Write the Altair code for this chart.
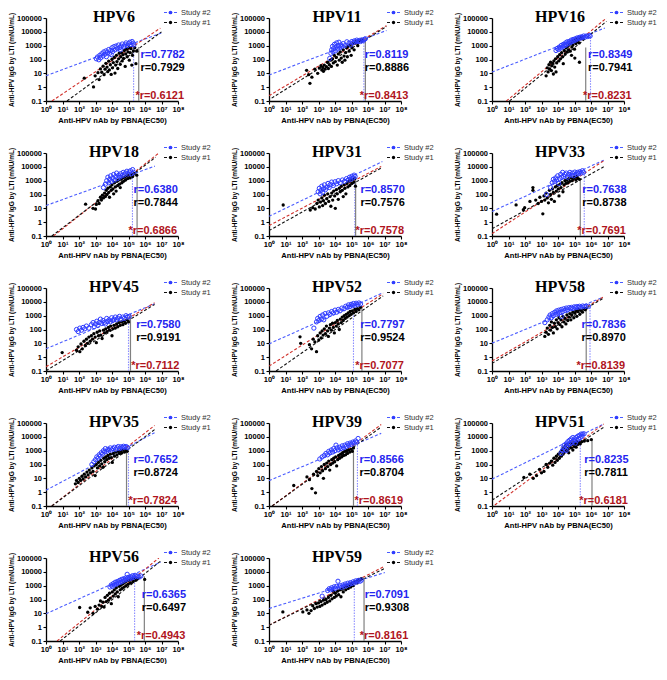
import altair as alt
import pandas as pd

# ---------------- data (log10 units) ----------------
PANELS = ["HPV6", "HPV11", "HPV16", "HPV18", "HPV31", "HPV33", "HPV45",
          "HPV52", "HPV58", "HPV35", "HPV39", "HPV51", "HPV56", "HPV59"]
R_S2 = ["0.7782", "0.8119", "0.8349", "0.6380", "0.8570", "0.7638", "0.7580",
        "0.7797", "0.7836", "0.7652", "0.8566", "0.8235", "0.6365", "0.7091"]
R_S1 = ["0.7929", "0.8886", "0.7941", "0.7844", "0.7576", "0.8738", "0.9191",
        "0.9524", "0.8970", "0.8724", "0.8704", "0.7811", "0.6497", "0.9308"]
R_ALL = ["0.6121", "0.8413", "0.8231", "0.6866", "0.7578", "0.7691", "0.7112",
         "0.7077", "0.8139", "0.7824", "0.8619", "0.6181", "0.4943", "0.8161"]
R_LABEL_X = [5.72, 5.8, 5.82, 5.3, 5.54, 5.47, 5.47, 5.53, 5.42, 5.3, 5.48, 5.59, 5.8, 5.8]

# regression lines (x1, y1, x2, y2) in log10 units
FIT_S2 = [(0, 0.82, 7.07, 3.96), (0, 0.88, 7.12, 4.1), (0, 1.09, 6.84, 4.28),
          (0, 1.2, 6.6, 4.05), (0, 0.42, 6.87, 4.38), (0, 0.77, 6.77, 4.48),
          (0, 0.61, 6.58, 3.86), (0, 0.96, 6.92, 4.66), (0, 1.01, 6.72, 4.33),
          (0, 0.14, 6.58, 4.3), (0, 0.83, 6.8, 4.25), (0, 0.94, 6.77, 4.93),
          (0, 0.97, 6.94, 4.7), (0, 1.35, 7.02, 3.95)]
FIT_S1 = [(1.27, -1, 7.0, 4.0), (0.16, -0.79, 7.12, 4.38), (1.06, -1, 6.94, 4.76),
          (0.35, -1, 6.65, 4.7), (0, -0.61, 6.8, 3.92), (0, -0.48, 6.77, 4.0),
          (0, -0.98, 6.58, 3.81), (0.43, -1, 6.92, 4.43), (0, -0.45, 6.72, 4.24),
          (0.35, -1, 6.58, 4.52), (0.19, -1, 6.8, 4.71), (0, -0.58, 6.77, 4.69),
          (0.86, -1, 6.94, 4.77), (0, 0.14, 7.02, 4.25)]
FIT_ALL = [(0.36, -1, 6.93, 4.27), (0, -0.62, 7.12, 4.45), (0.87, -1, 6.94, 5.0),
           (0.45, -1, 6.84, 5.0), (0, -0.25, 6.8, 4.03), (0, -0.83, 6.77, 4.44),
           (0, -0.69, 6.58, 3.93), (0, -0.65, 6.92, 4.59), (0, -0.27, 6.72, 4.33),
           (0.35, -1, 6.58, 4.82), (0.19, -1, 6.8, 4.89), (0.17, -0.93, 6.77, 4.93),
           (0.67, -1, 6.84, 5.0), (0, 0.14, 7.02, 4.41)]

# vertical reference lines (x, top) in log10 units
VLINE_S2 = [(5.31, 3.3), (5.75, 3.6), (5.97, 3.7), (5.24, 3.4), (5.2, 3.23), (5.59, 3.78),
            (5.0, 2.86), (5.12, 3.32), (5.94, 3.7), (5.0, 3.16), (5.36, 3.79), (5.35, 3.87),
            (5.37, 3.46), (5.17, 3.22)]
VLINE_S1 = [(5.62, 2.9), (5.84, 3.5), (5.68, 2.86), (5.52, 3.4), (5.25, 3.2), (5.35, 3.18),
            (5.12, 3.1), (5.63, 3.55), (5.71, 3.57), (4.88, 3.0), (5.12, 3.34), (6.06, 3.87),
            (5.96, 3.68), (5.76, 3.57)]

HPV6_S2 = [(3.05,2.05),(3.12,2.18),(3.2,1.98),(3.26,2.3),(3.31,2.12),(3.38,2.42),(3.45,2.25),(3.5,2.55),
           (3.57,2.38),(3.63,2.62),(3.66,2.2),(3.72,2.5),(3.8,2.72),(3.86,2.45),(3.93,2.66),(4.0,2.85),
           (4.04,2.58),(4.12,2.93),(4.18,2.7),(4.25,2.98),(4.33,2.78),(4.4,3.05),(4.47,2.86),(4.55,2.97),
           (4.62,3.12),(4.7,2.92),(4.78,3.06),(4.85,3.2),(4.93,3.0),(5.0,3.15),(5.08,3.25),(5.15,3.08),
           (5.22,3.3),(5.28,3.18),(5.33,3.05),(4.5,2.7),(3.95,2.35)]
HPV6_S1 = [(2.32,0.65),(2.88,0.02),(2.98,0.82),(3.15,1.05),(3.22,0.55),(3.3,1.32),(3.38,1.08),(3.46,1.52),
           (3.52,0.9),(3.58,1.3),(3.63,1.72),(3.7,1.45),(3.74,1.12),(3.8,1.88),(3.84,1.25),(3.9,1.62),
           (3.95,0.92),(4.0,2.02),(4.03,1.4),(4.08,1.78),(4.14,2.15),(4.18,1.02),(4.22,1.6),(4.27,2.3),
           (4.3,1.85),(4.35,1.35),(4.4,2.05),(4.44,2.45),(4.5,1.65),(4.53,2.2),(4.58,2.5),(4.62,1.9),
           (4.66,2.35),(4.7,2.08),(4.75,2.65),(4.8,1.5),(4.83,2.4),(4.88,2.75),(4.92,2.2),(4.97,2.55),
           (5.02,2.85),(5.05,1.95),(5.1,2.5),(5.15,2.78),(5.2,1.6),(5.24,2.3),(5.3,2.62),(5.38,2.85),
           (5.45,1.7),(5.5,2.6)]

HPV11_S2 = [(3.68,2.08),(3.75,2.45),(3.8,2.7),(3.85,2.95),(3.88,2.55),(3.92,2.8),(3.97,3.1),(4.02,2.62),
            (4.06,2.9),(4.1,3.2),(4.15,2.75),(4.2,3.0),(4.24,3.25),(4.3,2.85),(4.36,3.05),(4.42,2.95),
            (4.5,3.15),(4.6,3.0),(4.72,3.28),(4.85,3.18),(4.95,3.05),(5.02,3.3),(5.1,3.22),(5.18,3.35),
            (5.25,3.28),(5.32,3.4),(5.4,3.3),(5.48,3.38),(5.55,3.3),(5.62,3.42),(5.7,3.36),(5.78,3.45),(5.84,3.5)]
HPV11_S1 = [(2.28,1.22),(2.4,0.9),(2.48,0.28),(2.6,0.72),(2.78,1.3),(2.95,1.0),(3.05,1.38),(3.15,1.55),
            (3.2,1.25),(3.26,1.42),(3.3,1.15),(3.35,1.6),(3.4,1.3),(3.48,1.48),(3.55,1.8),(3.6,1.35),
            (3.66,1.62),(3.72,1.95),(3.78,1.5),(3.85,2.05),(3.9,1.75),(3.96,2.3),(4.02,1.85),(4.08,2.15),
            (4.14,1.6),(4.2,2.4),(4.26,1.95),(4.32,2.55),(4.38,2.1),(4.44,1.8),(4.5,2.7),(4.55,2.25),
            (4.6,1.95),(4.65,2.5),(4.7,2.85),(4.75,2.2),(4.8,2.95),(4.86,2.6),(4.92,3.05),(4.98,2.3),
            (5.03,2.85),(5.1,3.15),(5.16,2.7),(5.22,3.2),(5.3,3.3),(5.38,3.0),(5.45,3.35),(5.55,3.42),(5.62,3.4)]

HPV16_S2 = [(3.88,2.65),(3.95,2.8),(4.02,2.72),(4.08,2.9),(4.15,2.82),(4.2,3.02),(4.27,2.9),(4.33,3.1),
            (4.4,3.0),(4.46,3.2),(4.5,3.05),(4.56,3.28),(4.62,3.15),(4.68,3.3),(4.75,3.22),(4.8,3.4),
            (4.86,3.3),(4.92,3.45),(4.98,3.36),(5.05,3.5),(5.1,3.42),(5.16,3.56),(5.22,3.5),(5.3,3.6),
            (5.36,3.54),(5.42,3.64),(5.5,3.6),(5.56,3.7),(5.64,3.62),(5.72,3.7),(5.8,3.66),(5.88,3.72),(5.95,3.7)]
HPV16_S1 = [(3.28,0.82),(3.35,1.4),(3.4,1.1),(3.45,1.62),(3.5,1.3),(3.55,1.8),(3.6,1.2),(3.62,1.55),
            (3.68,1.72),(3.72,0.95),(3.75,1.9),(3.8,1.45),(3.85,2.05),(3.88,1.1),(3.92,1.75),(3.98,2.2),
            (4.05,1.9),(4.1,2.35),(4.15,2.05),(4.22,2.5),(4.28,2.2),(4.32,1.7),(4.38,2.65),(4.44,2.4),
            (4.5,2.85),(4.54,2.55),(4.6,2.95),(4.64,2.7),(4.7,3.1),(4.74,2.6),(4.8,3.2),(4.84,2.9),
            (4.9,3.05),(4.95,3.3),(5.0,2.75),(5.04,3.4),(5.08,3.15),(5.12,3.5),(5.18,3.3),(5.22,3.45),
            (5.28,3.2),(5.34,3.55),(5.4,3.62),(5.48,3.5),(5.02,2.1),(5.3,1.8),(4.82,2.3)]

HPV18_S2 = [(3.48,2.5),(3.6,2.75),(3.68,3.0),(3.75,3.25),(3.8,2.85),(3.86,3.1),(3.92,3.35),(3.98,2.95),
            (4.04,3.2),(4.1,3.45),(4.16,3.05),(4.22,3.3),(4.28,3.55),(4.34,3.15),(4.4,3.4),(4.46,3.25),
            (4.52,3.5),(4.6,3.35),(4.68,3.6),(4.75,3.42),(4.82,3.55),(4.9,3.68),(4.98,3.48),(5.05,3.62),
            (5.12,3.72),(5.18,3.5),(5.25,3.8),(5.3,3.6)]
HPV18_S1 = [(2.4,1.3),(2.85,1.0),(3.0,0.95),(3.05,1.28),(3.15,1.55),(3.22,1.35),(3.3,1.8),(3.36,1.6),
            (3.42,1.95),(3.48,1.75),(3.55,2.1),(3.6,1.85),(3.65,2.3),(3.7,2.0),(3.75,2.45),(3.8,2.15),
            (3.85,1.8),(3.9,2.55),(3.95,2.3),(4.0,2.7),(4.05,2.4),(4.1,2.05),(4.15,2.85),(4.2,2.55),
            (4.25,2.25),(4.3,2.95),(4.35,2.65),(4.4,3.05),(4.45,2.75),(4.5,2.5),(4.55,3.1),(4.6,2.85),
            (4.65,3.2),(4.7,2.95),(4.76,3.25),(4.82,3.05),(4.88,3.35),(4.95,3.15),(5.02,3.4),(5.1,3.2),
            (5.18,3.45),(5.25,3.3),(5.35,3.5),(5.5,3.4)]

HPV31_S2 = [(2.98,2.2),(3.05,2.45),(3.1,2.05),(3.15,2.3),(3.2,2.6),(3.25,2.15),(3.3,2.4),(3.36,2.7),
            (3.42,2.35),(3.5,2.55),(3.58,2.8),(3.65,2.5),(3.72,2.72),(3.8,2.9),(3.9,2.65),(4.0,2.92),
            (4.1,2.78),(4.2,3.0),(4.32,2.85),(4.45,3.05),(4.58,2.95),(4.7,3.15),(4.8,3.05),(4.88,3.25),
            (4.95,3.1),(5.02,3.32),(5.1,3.2),(5.16,3.4),(5.22,3.3)]
HPV31_S1 = [(0.86,1.24),(2.5,0.88),(2.65,1.05),(2.8,0.95),(2.9,1.35),(2.98,1.6),(3.05,1.1),(3.12,1.45),
            (3.2,1.75),(3.25,1.2),(3.3,1.55),(3.36,1.95),(3.42,1.35),(3.5,1.7),(3.56,2.05),(3.62,1.5),
            (3.7,1.85),(3.75,1.15),(3.8,2.1),(3.86,1.6),(3.92,2.25),(3.98,1.9),(4.02,1.0),(4.08,2.35),
            (4.14,2.05),(4.2,1.65),(4.26,2.45),(4.32,2.2),(4.38,2.6),(4.44,2.3),(4.5,1.85),(4.55,2.7),
            (4.6,2.45),(4.66,2.05),(4.72,2.8),(4.78,2.55),(4.84,2.95),(4.9,2.65),(4.96,3.05),(5.02,2.8),
            (5.08,3.1),(5.14,2.9),(5.2,3.15),(5.24,2.6)]

HPV33_S2 = [(3.3,2.0),(3.55,2.5),(3.65,2.85),(3.72,3.1),(3.8,2.95),(3.86,3.2),(3.92,3.05),(3.98,3.35),
            (4.04,2.8),(4.1,3.15),(4.16,3.45),(4.22,3.25),(4.28,3.6),(4.35,3.3),(4.42,3.45),(4.5,3.55),
            (4.58,3.25),(4.65,3.45),(4.72,3.6),(4.8,3.4),(4.88,3.55),(4.95,3.35),(5.02,3.62),(5.1,3.45),
            (5.18,3.6),(5.25,3.5),(5.32,3.65),(5.4,3.55),(5.48,3.72),(5.55,3.6)]
HPV33_S1 = [(0.28,0.58),(1.46,1.25),(1.9,0.9),(1.98,1.05),(2.3,1.5),(2.48,2.5),(2.48,2.3),(2.65,1.6),
            (2.8,1.35),(2.9,1.8),(3.0,1.5),(3.08,0.6),(3.15,1.9),(3.2,1.6),(3.28,2.1),(3.35,1.75),
            (3.42,1.4),(3.48,2.3),(3.55,2.0),(3.6,1.65),(3.66,2.4),(3.72,2.15),(3.78,1.5),(3.84,2.55),
            (3.9,2.25),(3.96,2.65),(4.02,2.4),(4.06,1.9),(4.12,2.75),(4.18,2.5),(4.24,2.85),(4.3,2.2),
            (4.36,2.7),(4.42,3.0),(4.48,2.8),(4.54,3.05),(4.6,2.85),(4.66,3.15),(4.72,2.95),(4.8,3.2),
            (4.86,3.0),(4.94,3.15),(5.0,3.25),(5.08,3.05),(5.15,3.3),(5.22,3.15),(5.3,3.1)]

HPV45_S2 = [(1.85,2.0),(1.95,1.85),(2.05,2.1),(2.15,1.95),(2.25,2.15),(2.35,2.05),(2.45,2.25),(2.6,2.1),
            (2.75,2.35),(2.85,2.5),(2.92,2.2),(3.0,2.4),(3.08,2.6),(3.15,2.3),(3.22,2.5),(3.3,2.75),
            (3.38,2.45),(3.45,2.65),(3.52,2.5),(3.6,2.4),(3.68,2.8),(3.75,2.6),(3.82,2.7),(3.9,2.55),
            (3.98,2.85),(4.05,2.65),(4.12,2.75),(4.2,2.9),(4.28,2.7),(4.36,2.82),(4.45,2.95),(4.55,2.75),
            (4.65,2.9),(4.75,2.8),(4.85,3.0),(4.95,2.9),(5.05,2.95)]
HPV45_S1 = [(0.98,0.33),(1.85,0.5),(1.95,0.75),(2.05,0.4),(2.12,0.95),(2.2,0.6),(2.3,1.15),(2.38,0.85),
            (2.45,1.3),(2.52,1.0),(2.6,1.45),(2.68,1.15),(2.75,1.55),(2.82,1.3),(2.9,1.7),(2.98,1.45),
            (3.05,1.05),(3.1,1.8),(3.18,1.55),(3.25,1.9),(3.32,1.6),(3.4,1.35),(3.48,1.95),(3.55,1.75),
            (3.62,2.05),(3.7,1.85),(3.78,2.15),(3.85,1.95),(3.92,2.25),(4.0,1.55),(4.05,2.05),(4.12,2.3),
            (4.2,2.1),(4.28,2.4),(4.35,2.2),(4.42,2.5),(4.5,2.3),(4.58,2.55),(4.66,2.35),(4.74,2.6),
            (4.82,2.45),(4.9,2.7),(5.0,2.55)]

HPV52_S2 = [(2.72,2.1),(2.88,2.55),(2.95,2.8),(3.02,2.65),(3.1,2.95),(3.18,2.75),(3.25,3.05),(3.32,2.7),
            (3.4,3.15),(3.5,2.95),(3.6,3.2),(3.7,3.1),(3.8,3.3),(3.9,3.2),(4.0,3.4),(4.1,3.25),(4.2,3.45),
            (4.3,3.35),(4.42,3.55),(4.55,3.5),(4.65,3.68),(4.75,3.6),(4.82,3.78),(4.9,3.65),(4.98,3.82),
            (5.05,3.72),(5.12,3.88),(5.2,3.75),(5.28,3.9),(5.36,3.8),(5.45,3.92),(5.55,3.85)]
HPV52_S1 = [(1.88,1.47),(1.92,1.0),(2.45,0.9),(2.58,0.6),(2.68,1.3),(2.78,1.1),(2.88,0.4),(2.95,1.55),
            (3.02,1.25),(3.1,1.75),(3.16,1.4),(3.22,1.9),(3.28,1.6),(3.35,2.05),(3.42,1.7),(3.48,2.25),
            (3.55,1.9),(3.6,1.5),(3.66,2.1),(3.72,2.35),(3.78,1.95),(3.85,2.45),(3.9,2.15),(3.96,1.75),
            (4.02,2.5),(4.08,2.25),(4.14,2.65),(4.2,2.4),(4.26,2.0),(4.32,2.75),(4.38,2.5),(4.44,2.9),
            (4.5,2.65),(4.56,3.0),(4.62,2.8),(4.68,3.1),(4.74,2.9),(4.8,3.2),(4.86,3.0),(4.92,3.3),
            (4.98,3.1),(5.05,3.35),(5.12,3.2),(5.2,3.45),(5.28,3.3),(5.36,3.5),(5.45,3.42),(5.55,3.6)]

HPV58_S2 = [(3.2,2.5),(3.35,2.7),(3.45,2.9),(3.52,3.05),(3.6,2.85),(3.66,3.15),(3.72,3.0),(3.8,3.25),
            (3.86,3.1),(3.92,3.35),(3.98,3.2),(4.05,3.4),(4.12,3.25),(4.2,3.45),(4.28,3.3),(4.35,3.5),
            (4.42,3.38),(4.5,3.55),(4.58,3.42),(4.66,3.58),(4.74,3.5),(4.82,3.6),(4.9,3.52),(4.98,3.64),
            (5.06,3.58),(5.14,3.66),(5.22,3.6),(5.3,3.68),(5.4,3.62),(5.5,3.7),(5.6,3.65),(5.7,3.7),
            (5.85,3.68),(4.2,2.95)]
HPV58_S1 = [(3.2,1.5),(3.28,1.8),(3.35,2.1),(3.42,1.65),(3.5,2.3),(3.55,1.95),(3.6,2.55),(3.66,2.15),
            (3.72,1.75),(3.78,2.45),(3.84,2.2),(3.9,2.7),(3.95,2.05),(4.0,2.5),(4.06,2.85),(4.12,2.35),
            (4.18,2.7),(4.24,2.2),(4.3,2.95),(4.36,2.55),(4.42,2.8),(4.48,2.4),(4.54,3.05),(4.6,2.65),
            (4.66,2.9),(4.72,3.15),(4.78,2.7),(4.84,3.05),(4.9,3.25),(4.96,2.85),(5.02,3.2),(5.08,3.35),
            (5.14,2.95),(5.2,3.3),(5.26,3.45),(5.32,3.1),(5.4,3.4),(5.48,3.25),(5.56,3.5),(5.65,3.42),(5.72,3.55)]

HPV35_S2 = [(2.78,2.0),(2.9,2.2),(3.0,2.35),(3.08,2.55),(3.15,2.45),(3.22,2.7),(3.28,2.6),(3.35,2.85),
            (3.42,2.75),(3.48,3.0),(3.55,2.9),(3.6,3.15),(3.68,2.95),(3.75,3.1),(3.82,3.05),(3.9,3.2),
            (3.98,3.05),(4.06,3.15),(4.14,3.25),(4.22,3.1),(4.3,3.2),(4.38,3.3),(4.46,3.15),(4.54,3.28),
            (4.62,3.2),(4.7,3.32),(4.78,3.25),(4.86,3.3),(4.95,3.22)]
HPV35_S1 = [(1.78,0.6),(1.85,0.85),(1.95,0.7),(2.02,1.0),(2.1,0.85),(2.18,1.15),(2.25,0.95),(2.32,1.3),
            (2.4,1.1),(2.48,1.45),(2.55,1.25),(2.62,1.6),(2.7,1.4),(2.78,1.75),(2.85,1.5),(2.92,1.9),
            (2.98,1.2),(3.05,2.0),(3.12,1.75),(3.18,2.15),(3.25,1.9),(3.32,2.3),(3.38,2.05),(3.45,1.8),
            (3.5,2.45),(3.56,2.2),(3.62,2.55),(3.68,2.35),(3.75,2.65),(3.82,2.45),(3.9,2.75),(3.96,2.5),
            (4.02,2.15),(4.08,2.8),(4.15,2.6),(4.22,2.9),(4.3,2.7),(4.38,2.95),(4.45,2.8),(4.52,3.0),
            (4.6,2.85),(4.68,3.05),(4.76,2.9),(4.85,3.05),(4.92,2.95)]

HPV39_S2 = [(3.08,2.4),(3.22,2.55),(3.35,2.65),(3.45,2.8),(3.55,2.7),(3.62,2.95),(3.7,2.85),(3.78,3.05),
            (3.85,2.9),(3.92,3.15),(4.0,3.0),(4.06,3.4),(4.12,3.2),(4.2,3.05),(4.28,3.25),(4.36,3.15),
            (4.44,3.35),(4.52,3.2),(4.6,3.4),(4.68,3.3),(4.76,3.5),(4.84,3.4),(4.92,3.55),(5.0,3.45),
            (5.08,3.62),(5.16,3.55),(5.24,3.7),(5.32,3.62),(5.4,3.88)]
HPV39_S1 = [(1.5,0.48),(2.3,1.1),(2.45,0.9),(2.6,0.26),(2.7,1.3),(2.82,-0.05),(2.88,1.5),(2.95,1.2),
            (3.02,1.7),(3.1,1.4),(3.18,1.85),(3.25,1.55),(3.3,1.0),(3.35,2.0),(3.42,1.7),(3.5,2.1),
            (3.56,1.85),(3.62,2.25),(3.68,1.6),(3.74,2.0),(3.8,2.35),(3.86,2.1),(3.92,2.45),(3.98,2.2),
            (4.04,2.55),(4.1,1.9),(4.16,2.35),(4.22,2.65),(4.28,2.45),(4.34,2.75),(4.4,2.55),(4.46,2.85),
            (4.52,2.65),(4.58,2.95),(4.64,2.7),(4.7,3.0),(4.76,2.8),(4.82,3.05),(4.9,2.9),(4.98,3.1),
            (5.05,2.95),(5.12,3.2)]

HPV51_S2 = [(4.18,2.8),(4.26,3.0),(4.32,3.2),(4.38,3.4),(4.44,3.1),(4.5,3.5),(4.55,3.3),(4.6,3.65),
            (4.65,3.45),(4.7,3.75),(4.75,3.5),(4.8,3.85),(4.85,3.6),(4.9,3.95),(4.95,3.7),(5.0,3.85),
            (5.05,3.55),(5.1,3.95),(5.15,3.75),(5.2,4.05),(5.25,3.85),(5.3,4.1),(5.35,3.95),(5.4,4.2),
            (5.45,4.05),(5.5,4.2),(5.58,4.22),(4.5,3.0)]
HPV51_S1 = [(1.93,1.06),(2.29,1.3),(2.5,1.0),(2.7,1.2),(2.88,1.65),(3.0,1.4),(3.15,1.5),(3.28,2.0),
            (3.38,1.8),(3.5,2.1),(3.6,2.25),(3.68,1.95),(3.75,2.45),(3.82,2.15),(3.9,2.6),(3.96,2.3),
            (4.02,2.75),(4.08,2.45),(4.14,2.9),(4.2,2.6),(4.25,3.05),(4.3,2.75),(4.35,3.2),(4.4,2.9),
            (4.45,3.35),(4.5,3.0),(4.55,3.45),(4.6,3.15),(4.65,2.85),(4.7,3.3),(4.75,3.55),(4.8,3.2),
            (4.85,3.45),(4.9,3.05),(4.95,3.6),(5.0,3.3),(5.05,3.5),(5.1,3.25),(5.15,3.65),(5.2,3.45),
            (5.28,3.6),(5.35,3.5),(5.45,3.65),(5.6,3.7),(5.8,3.72),(6.02,3.8)]

HPV56_S2 = [(3.88,2.9),(3.95,3.05),(4.02,2.95),(4.08,3.15),(4.15,3.05),(4.2,3.25),(4.27,3.12),(4.33,3.3),
            (4.4,3.2),(4.46,3.38),(4.52,3.25),(4.58,3.45),(4.64,3.32),(4.7,3.5),(4.76,3.4),(4.82,3.55),
            (4.88,3.45),(4.92,3.82),(4.98,3.6),(5.05,3.5),(5.12,3.65),(5.18,3.55),(5.25,3.72),(5.32,3.6),
            (5.4,3.75),(5.48,3.65),(5.56,3.7),(5.65,3.62),(5.75,3.7)]
HPV56_S1 = [(2.04,1.42),(2.53,1.08),(2.68,1.4),(2.85,1.0),(2.98,1.5),(3.12,1.3),(3.22,1.6),(3.3,1.9),
            (3.38,1.5),(3.45,1.8),(3.52,1.45),(3.58,2.15),(3.65,1.85),(3.72,2.3),(3.78,1.95),(3.85,2.45),
            (3.9,2.1),(3.96,1.7),(4.02,2.55),(4.08,2.25),(4.14,2.7),(4.2,2.4),(4.26,2.85),(4.32,2.55),
            (4.38,2.2),(4.44,2.95),(4.5,2.7),(4.56,3.05),(4.62,2.8),(4.68,3.15),(4.74,2.9),(4.8,3.25),
            (4.86,3.0),(4.92,3.35),(4.98,3.1),(5.05,3.4),(5.12,3.2),(5.2,3.5),(5.28,3.3),(5.36,3.55),
            (5.45,3.4),(5.55,3.5),(5.98,3.45)]

HPV59_S2 = [(3.22,2.24),(3.55,2.65),(3.65,2.78),(3.72,2.7),(3.8,2.85),(3.88,2.75),(3.95,2.92),(4.02,2.8),
            (4.1,2.95),(4.18,3.32),(4.25,2.9),(4.32,3.0),(4.4,2.88),(4.48,3.05),(4.55,2.95),(4.62,3.12),
            (4.7,3.0),(4.78,3.18),(4.86,3.08),(4.94,3.22),(5.02,3.15),(5.1,3.28),(5.18,3.2),(5.26,3.35),
            (5.34,3.28),(5.42,3.38),(5.52,3.32),(5.6,3.4)]
HPV59_S1 = [(0.84,1.1),(2.05,1.1),(2.3,1.25),(2.42,1.0),(2.55,1.2),(2.65,1.55),(2.75,1.35),(2.85,1.7),
            (2.92,1.45),(3.0,1.75),(3.08,1.5),(3.15,1.85),(3.22,1.6),(3.3,1.95),(3.38,1.7),(3.45,2.0),
            (3.52,1.8),(3.6,2.15),(3.68,1.9),(3.75,2.3),(3.82,2.05),(3.9,2.6),(3.96,2.15),(4.02,2.45),
            (4.08,2.25),(4.15,2.6),(4.22,2.35),(4.3,2.7),(4.36,2.2),(4.42,2.75),(4.5,2.55),(4.58,2.9),
            (4.65,2.7),(4.72,3.0),(4.8,2.8),(4.88,3.05),(4.95,2.9),(5.02,3.15),(5.1,3.0),(5.18,3.25),
            (5.26,3.3),(5.34,3.2),(5.42,3.4),(5.5,3.45),(5.6,3.5)]

POINTS_S2 = [HPV6_S2, HPV11_S2, HPV16_S2, HPV18_S2, HPV31_S2, HPV33_S2, HPV45_S2,
             HPV52_S2, HPV58_S2, HPV35_S2, HPV39_S2, HPV51_S2, HPV56_S2, HPV59_S2]
POINTS_S1 = [HPV6_S1, HPV11_S1, HPV16_S1, HPV18_S1, HPV31_S1, HPV33_S1, HPV45_S1,
             HPV52_S1, HPV58_S1, HPV35_S1, HPV39_S1, HPV51_S1, HPV56_S1, HPV59_S1]

# ---------------- styling ----------------
W, H = 132, 83
BLUE_PT = "#2f3cff"
BLUE_LINE = "#4a5cff"
BLUE_TXT = "#2424f0"
BLUE_VL = "#8a8cff"
RED_LINE = "#d0302a"
RED_TXT = "#b0141c"
GRAY_VL = "#808080"
SANS = "Liberation Sans"

SUP = "['\u2070','\u00b9','\u00b2','\u00b3','\u2074','\u2075','\u2076','\u2077','\u2078']"

XENC = alt.X("x:Q", scale=alt.Scale(domain=[0, 8], nice=False, zero=False),
             axis=alt.Axis(title="Anti-HPV nAb by PBNA(EC50)", values=list(range(9)),
                           labelExpr="'10' + " + SUP + "[round(datum.value)]"))
YENC = alt.Y("y:Q", scale=alt.Scale(domain=[-1, 5], nice=False, zero=False),
             axis=alt.Axis(title="Anti-HPV IgG by LTI (mNU/mL)", values=list(range(-1, 6)),
                           labelExpr="datum.value < 0 ? '0.1' : format(round(pow(10, datum.value)), 'd')"))


def ypix(v):
    return H * (5 - v) / 6.0


def panel(i):
    name = PANELS[i]
    fits = pd.DataFrame([
        {"x": FIT_S2[i][0], "y": FIT_S2[i][1], "x2": FIT_S2[i][2], "y2": FIT_S2[i][3], "c": BLUE_LINE},
        {"x": FIT_ALL[i][0], "y": FIT_ALL[i][1], "x2": FIT_ALL[i][2], "y2": FIT_ALL[i][3], "c": RED_LINE},
        {"x": FIT_S1[i][0], "y": FIT_S1[i][1], "x2": FIT_S1[i][2], "y2": FIT_S1[i][3], "c": "#111111"},
    ])
    fit_layer = alt.Chart(fits).mark_rule(strokeDash=[3, 2], strokeWidth=1.1, clip=True).encode(
        x=XENC, y=YENC, x2="x2:Q", y2="y2:Q", color=alt.Color("c:N", scale=None))

    vb = alt.Chart(pd.DataFrame({"x": [VLINE_S2[i][0]], "y": [-1], "y2": [VLINE_S2[i][1]]})).mark_rule(
        color=BLUE_VL, strokeDash=[1.5, 1.2], strokeWidth=1.1).encode(x=XENC, y=YENC, y2="y2:Q")
    vk = alt.Chart(pd.DataFrame({"x": [VLINE_S1[i][0]], "y": [-1], "y2": [VLINE_S1[i][1]]})).mark_rule(
        color=GRAY_VL, strokeWidth=1.2).encode(x=XENC, y=YENC, y2="y2:Q")

    s1 = alt.Chart(pd.DataFrame(POINTS_S1[i], columns=["x", "y"])).mark_circle(
        color="black", size=11, opacity=1).encode(x=XENC, y=YENC)
    s2 = alt.Chart(pd.DataFrame(POINTS_S2[i], columns=["x", "y"])).mark_point(
        shape="circle", filled=False, color=BLUE_PT, size=18, strokeWidth=1, opacity=1).encode(x=XENC, y=YENC)

    lab = pd.DataFrame({"x": [R_LABEL_X[i]], "t2": ["r=" + R_S2[i]], "t1": ["r=" + R_S1[i]],
                        "ta": ["*r=" + R_ALL[i]]})
    base_t = alt.Chart(lab)
    tb = base_t.mark_text(align="left", baseline="middle", fontSize=11, fontWeight="bold",
                          font=SANS, color=BLUE_TXT).encode(x=XENC, y=alt.value(ypix(2.35)), text="t2:N")
    tk = base_t.mark_text(align="left", baseline="middle", fontSize=11, fontWeight="bold",
                          font=SANS, color="black").encode(x=XENC, y=alt.value(ypix(1.4)), text="t1:N")
    tr = base_t.mark_text(align="left", baseline="middle", fontSize=11, fontWeight="bold", dx=-5,
                          font=SANS, color=RED_TXT).encode(x=XENC, y=alt.value(ypix(-0.62)), text="ta:N")

    title = alt.Chart(pd.DataFrame({"t": [name]})).mark_text(
        font="Liberation Serif", fontWeight="bold", fontSize=16, align="center", baseline="middle",
        color="black").encode(x=alt.value(68), y=alt.value(-1.5), text="t:N")

    one = pd.DataFrame({"t": ["Study #2"], "u": ["Study #1"]})
    lr2 = alt.Chart(one).mark_rule(color=BLUE_LINE, strokeDash=[3, 2], strokeWidth=1.1).encode(
        x=alt.value(W - 14), x2=alt.value(W - 1), y=alt.value(-5.5))
    lp2 = alt.Chart(one).mark_circle(color=BLUE_PT, size=14, opacity=1).encode(
        x=alt.value(W - 7.5), y=alt.value(-5.5))
    lt2 = alt.Chart(one).mark_text(align="left", baseline="middle", fontSize=7.5, font=SANS,
                                   color="#333333").encode(x=alt.value(W + 3), y=alt.value(-5.5), text="t:N")
    lr1 = alt.Chart(one).mark_rule(color="#111111", strokeDash=[3, 2], strokeWidth=1.1).encode(
        x=alt.value(W - 14), x2=alt.value(W - 1), y=alt.value(4.5))
    lp1 = alt.Chart(one).mark_circle(color="black", size=11, opacity=1).encode(
        x=alt.value(W - 7.5), y=alt.value(4.5))
    lt1 = alt.Chart(one).mark_text(align="left", baseline="middle", fontSize=7.5, font=SANS,
                                   color="#333333").encode(x=alt.value(W + 3), y=alt.value(4.5), text="u:N")

    return alt.layer(fit_layer, vb, vk, s1, s2, tb, tk, tr, title,
                     lr2, lp2, lt2, lr1, lp1, lt1).properties(width=W, height=H)


chart = alt.concat(*[panel(i) for i in range(len(PANELS))], columns=3,
                   spacing={"row": 52, "column": 91}, bounds="flush").properties(
    padding=0
).configure_view(stroke=None).configure_axis(
    grid=False, domainColor="black", domainWidth=1.3, tickColor="black", tickWidth=1.1,
    tickSize=3, labelFont=SANS, labelFontSize=7.5, labelFontWeight="bold", labelColor="black",
    labelPadding=1.5, titleFont=SANS, titleFontWeight="bold", titleColor="black",
    labelOverlap=False, labelFlush=False
).configure_axisX(
    titleFontSize=7.6, titlePadding=3
).configure_axisY(
    titleFontSize=6.5, titlePadding=2
)

chart.save("out.html", embed_options={"renderer": "svg", "actions": False})
